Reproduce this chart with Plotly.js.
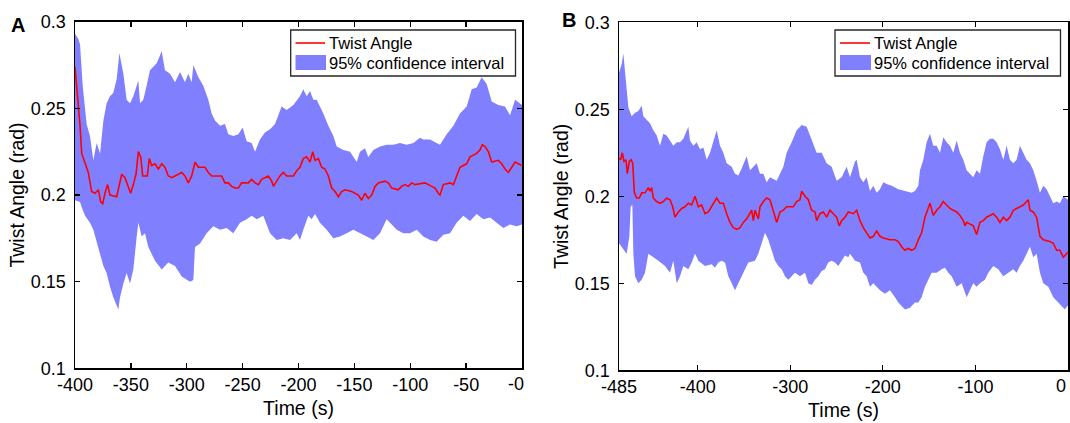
<!DOCTYPE html>
<html><head><meta charset="utf-8">
<script src="https://cdn.plot.ly/plotly-3.0.1.min.js"></script>
<style>html,body{margin:0;padding:0;background:#fff}#chart{width:1070px;height:423px}</style>
</head><body><div id="chart"></div>
<script>
// ---------- Panel A ----------
const aMeanTime = [
 -400,-398.5,-397,-395.5,-394,-391.1,-388.1,-385.1,-382.1,-379.1,
 -377,-375.2,-373.2,-370.8,-368.7,-362.7,-360.3,-358.2,-355.3,-352.3,
 -350.2,-347.8,-345.4,-343.3,-341.2,-339.4,-335.3,-333.5,-331.4,-328.4,
 -325.4,-322.4,-319.5,-316.5,-313.5,-310.5,-307.5,-304.5,-301.6,-298.6,
 -295.6,-292.6,-289.6,-283.7,-280.7,-277.7,-271.7,-268.8,-265.8,-262.8,
 -259.8,-256.8,-253.8,-250.9,-244.9,-241.9,-238.9,-235.9,-233,-227,
 -224,-222.5,-219.5,-216.6,-213.6,-210.6,-207.6,-204.6,-201.6,-198.7,
 -195.7,-192.7,-189.7,-187.3,-185.2,-182.2,-179.3,-176.3,-173.3,-170.3,
 -167.3,-164.3,-161.4,-158.4,-152.4,-149.4,-146.5,-143.5,-140.5,-137.5,
 -134.5,-131.5,-128.6,-122.6,-119.6,-116.6,-110.7,-107.7,-104.7,-101.7,
 -98.7,-95.7,-86.8,-80.8,-77.8,-74.9,-73.4,-70.4,-64.4,-61.4,
 -58.5,-55.5,-49.5,-46.5,-40.6,-37.6,-35.5,-33.1,-30.1,-27.1,
 -21.2,-18.2,-15.2,-12.2,-9.2,-6.2,-3.3,0];
const aMeanAngle = [
 0.274,0.263,0.251,0.240,0.224,0.218,0.213,0.202,0.201,0.203,
 0.196,0.195,0.201,0.206,0.200,0.199,0.207,0.212,0.210,0.204,
 0.201,0.206,0.212,0.225,0.222,0.211,0.211,0.221,0.217,0.218,
 0.215,0.218,0.216,0.211,0.210,0.211,0.212,0.213,0.211,0.207,
 0.211,0.219,0.216,0.216,0.213,0.211,0.211,0.211,0.207,0.207,
 0.205,0.204,0.204,0.207,0.207,0.209,0.207,0.206,0.209,0.211,
 0.208,0.205,0.208,0.211,0.213,0.211,0.211,0.211,0.214,0.216,
 0.221,0.222,0.219,0.225,0.220,0.221,0.216,0.215,0.211,0.204,
 0.202,0.199,0.202,0.203,0.202,0.201,0.200,0.197,0.201,0.198,
 0.200,0.205,0.207,0.208,0.207,0.204,0.203,0.205,0.206,0.205,
 0.207,0.206,0.207,0.205,0.204,0.201,0.200,0.206,0.207,0.206,
 0.211,0.216,0.218,0.222,0.224,0.226,0.229,0.228,0.225,0.219,
 0.220,0.218,0.215,0.213,0.216,0.219,0.218,0.217];

const aUpperTime = [
 -400,-397,-395.5,-393.1,-389.6,-386.6,-383.6,-380.6,-377.6,-374.6,
 -371.7,-368.7,-365.7,-362.7,-360.3,-356.7,-353.8,-350.8,-347.8,-343.3,
 -341.8,-338.9,-335.9,-332.9,-329.9,-326.9,-322.4,-319.5,-315,-310.5,
 -306,-301.6,-298.6,-295.6,-294.1,-289.6,-285.2,-280.7,-277.7,-274.7,
 -270.2,-265.8,-262.8,-258.3,-253.8,-250,-246.4,-241.9,-238.9,-234.5,
 -230,-225.5,-221,-215.1,-210.6,-204.6,-198.7,-195.7,-192.7,-189.7,
 -186.7,-183.7,-180.8,-177.8,-173.3,-168.8,-165.8,-159.9,-153.9,-147.9,
 -145,-140.5,-137.5,-133,-127.1,-121.1,-115.1,-109.2,-103.2,-97.2,
 -91.3,-88.3,-82.3,-76.4,-73.4,-67.4,-61.4,-55.5,-49.5,-45,
 -40.6,-36.1,-31.6,-27.1,-21.2,-15.2,-10.7,-6.2,-1.8,0];
const aUpperAngle = [
 0.293,0.290,0.287,0.263,0.241,0.234,0.220,0.230,0.224,0.243,
 0.253,0.257,0.259,0.267,0.282,0.270,0.255,0.253,0.257,0.266,
 0.253,0.255,0.263,0.272,0.274,0.276,0.283,0.272,0.270,0.265,
 0.271,0.265,0.270,0.265,0.275,0.268,0.263,0.255,0.247,0.243,
 0.240,0.241,0.235,0.234,0.235,0.239,0.231,0.230,0.225,0.232,
 0.236,0.238,0.241,0.251,0.249,0.252,0.257,0.261,0.257,0.260,
 0.255,0.255,0.251,0.247,0.240,0.234,0.228,0.226,0.225,0.219,
 0.225,0.227,0.222,0.226,0.228,0.229,0.229,0.230,0.229,0.230,
 0.233,0.232,0.232,0.230,0.229,0.235,0.240,0.247,0.251,0.261,
 0.262,0.268,0.264,0.254,0.252,0.251,0.246,0.255,0.253,0.252];

const aLowerTime = [
 -400,-395.5,-394,-391,-386.6,-383.6,-379.1,-374.6,-371.7,-368.7,
 -365.7,-361.2,-359.7,-356.7,-353.8,-350.8,-347.8,-344.8,-343.3,-340.3,
 -337.4,-334.4,-328.4,-322.4,-316.5,-310.5,-304.5,-297.1,-294.1,-292.6,
 -288.1,-282.2,-276.2,-270.2,-264.3,-258.3,-252.3,-246.4,-241.9,-237.4,
 -231.5,-225.5,-219.5,-213.6,-207.6,-201.6,-198.7,-195.7,-191.2,-188.2,
 -185.2,-180.8,-174.8,-168.8,-162.9,-156.9,-150.9,-145,-139,-133,
 -127.1,-121.1,-118.1,-112.1,-106.2,-100.2,-94.2,-88.3,-82.3,-76.4,
 -70.4,-64.4,-58.5,-52.5,-46.5,-40.6,-34.6,-28.6,-22.7,-16.7,
 -10.7,-4.8,0];
const aLowerAngle = [
 0.197,0.196,0.193,0.188,0.184,0.180,0.170,0.159,0.155,0.147,
 0.141,0.134,0.141,0.149,0.155,0.149,0.157,0.176,0.184,0.176,
 0.178,0.170,0.162,0.157,0.161,0.159,0.153,0.150,0.151,0.170,
 0.172,0.178,0.182,0.180,0.181,0.178,0.184,0.186,0.188,0.186,
 0.188,0.178,0.174,0.175,0.174,0.178,0.174,0.180,0.188,0.186,
 0.189,0.184,0.180,0.175,0.176,0.178,0.180,0.178,0.176,0.174,
 0.178,0.186,0.184,0.180,0.178,0.178,0.180,0.176,0.174,0.173,
 0.177,0.178,0.184,0.188,0.185,0.189,0.186,0.187,0.184,0.181,
 0.183,0.182,0.183];

// ---------- Panel B ----------
const bMeanTime = [
 -485,-483.2,-481.4,-479.6,-477.4,-476,-473.8,-472,-470.2,-468.4,
 -465.9,-463,-460.5,-456.9,-453.3,-451.5,-449.7,-447.9,-444.3,-440.7,
 -437.1,-433.5,-429.9,-427,-424.5,-420.9,-417.3,-413.7,-410.1,-406.5,
 -402.9,-401.1,-399.3,-395.7,-392.1,-388.5,-384.9,-379.5,-375.9,-372.3,
 -368.7,-365.1,-361.5,-357.9,-354.3,-350.7,-347.1,-343.5,-341.7,-339.9,
 -338.1,-334.5,-332.7,-329.1,-325.5,-321.9,-318.3,-314.7,-311.1,-307.5,
 -303.9,-296.7,-293.1,-289.5,-287.7,-284.1,-280.5,-276.9,-273.3,-271.5,
 -267.9,-264.3,-260.7,-257.1,-253.5,-249.9,-247.1,-244.5,-240.9,-237.3,
 -231.9,-228.3,-224.7,-221.1,-217.5,-213.9,-210.3,-206.7,-203.1,-199.5,
 -192.3,-186.9,-183.3,-179.7,-176.1,-172.5,-168.9,-165.3,-161.7,-158.1,
 -154.5,-150.9,-149.1,-145.5,-141.9,-138.3,-134.7,-131.1,-127.5,-123.9,
 -120.3,-116.7,-113.1,-111.3,-109.5,-102.3,-98.7,-95.1,-91.5,-87.9,
 -80.7,-77.1,-73.5,-69.9,-66.3,-62.7,-59.1,-55.5,-51.9,-48.3,
 -44.7,-42.9,-41.1,-37.5,-33.9,-30.3,-26.7,-19.5,-15.9,-12.3,
 -8.7,-5.1,-1.5,0];
const bMeanAngle = [
 0.222,0.221,0.225,0.220,0.221,0.213,0.220,0.221,0.219,0.202,
 0.199,0.199,0.202,0.202,0.205,0.203,0.205,0.199,0.197,0.196,
 0.197,0.199,0.198,0.194,0.188,0.191,0.193,0.194,0.196,0.195,
 0.200,0.197,0.194,0.195,0.190,0.191,0.194,0.199,0.196,0.196,
 0.190,0.185,0.182,0.181,0.182,0.185,0.187,0.190,0.192,0.186,
 0.192,0.187,0.194,0.197,0.199,0.198,0.192,0.185,0.191,0.192,
 0.194,0.194,0.197,0.198,0.203,0.200,0.198,0.192,0.191,0.186,
 0.190,0.191,0.188,0.192,0.190,0.188,0.183,0.186,0.188,0.191,
 0.190,0.192,0.186,0.182,0.179,0.176,0.177,0.180,0.177,0.176,
 0.175,0.175,0.174,0.171,0.169,0.170,0.169,0.170,0.175,0.179,
 0.188,0.193,0.196,0.189,0.192,0.194,0.197,0.195,0.193,0.192,
 0.191,0.189,0.186,0.183,0.185,0.183,0.178,0.185,0.186,0.188,
 0.190,0.188,0.185,0.188,0.186,0.188,0.192,0.193,0.194,0.195,
 0.197,0.198,0.192,0.191,0.188,0.177,0.175,0.174,0.173,0.169,
 0.169,0.165,0.167,0.168];

const bUpperTime = [
 -485,-482.1,-480.3,-478.5,-476.7,-474.9,-471.3,-467.7,-464.1,-460.5,
 -458.7,-455.1,-451.5,-447.9,-444.3,-440.7,-437.1,-433.5,-429.9,-426.3,
 -422.7,-419.1,-415.5,-410.1,-408.3,-404.7,-401.1,-397.5,-393.9,-390.3,
 -386.7,-383.1,-379.5,-375.9,-372.3,-368.7,-363.3,-359.7,-356.1,-352.5,
 -347.1,-343.5,-336.3,-332.7,-329.1,-325.5,-321.9,-314.7,-311.1,-307.5,
 -303.9,-298.5,-293.1,-287.7,-282.3,-276.9,-271.5,-266.1,-260.7,-255.3,
 -249.9,-244.5,-239.1,-235.5,-230.1,-228.3,-224.7,-221.1,-217.5,-213.9,
 -210.3,-206.7,-203.1,-199.5,-195.9,-190.5,-183.3,-176.1,-168.9,-165.3,
 -161.7,-159.9,-156.3,-152.7,-149.1,-145.5,-141.9,-138.3,-134.7,-131.1,
 -127.5,-123.9,-120.3,-116.7,-113.1,-109.5,-105.9,-102.3,-98.7,-95.1,
 -91.5,-87.9,-84.3,-80.7,-77.1,-73.5,-69.9,-66.3,-62.7,-59.1,
 -55.5,-51.9,-48.3,-44.7,-41.1,-37.5,-33.9,-30.3,-26.7,-23.1,
 -19.5,-15.9,-12.3,-8.7,-5.1,-0.8,0];
const bUpperAngle = [
 0.271,0.276,0.282,0.273,0.263,0.251,0.246,0.248,0.249,0.252,
 0.246,0.244,0.242,0.238,0.235,0.229,0.236,0.235,0.232,0.229,
 0.231,0.231,0.233,0.240,0.232,0.229,0.231,0.227,0.228,0.221,
 0.225,0.231,0.238,0.229,0.225,0.219,0.217,0.213,0.212,0.216,
 0.223,0.215,0.219,0.213,0.213,0.208,0.211,0.209,0.213,0.217,
 0.225,0.231,0.238,0.241,0.240,0.232,0.225,0.225,0.219,0.217,
 0.209,0.211,0.217,0.211,0.220,0.221,0.211,0.208,0.211,0.203,
 0.206,0.202,0.204,0.208,0.207,0.206,0.204,0.203,0.202,0.203,
 0.206,0.215,0.221,0.231,0.236,0.229,0.229,0.225,0.234,0.231,
 0.229,0.225,0.232,0.225,0.221,0.215,0.213,0.211,0.215,0.213,
 0.223,0.231,0.233,0.233,0.231,0.227,0.221,0.229,0.221,0.219,
 0.221,0.229,0.225,0.221,0.219,0.215,0.209,0.202,0.206,0.204,
 0.200,0.196,0.197,0.196,0.200,0.198,0.198];

const bLowerTime = [
 -485,-482.1,-476.7,-473.8,-472.4,-470.6,-469.5,-467.7,-464.1,-460.5,
 -456.9,-453.3,-449.7,-442.5,-435.3,-429.9,-426.3,-422.7,-419.1,-415.5,
 -410.1,-406.5,-402.9,-399.3,-392.1,-384.9,-381.3,-377.7,-374.1,-370.5,
 -366.9,-363.3,-359.7,-356.1,-352.5,-348.9,-345.3,-338.1,-334.5,-330.9,
 -327.3,-323.7,-320.1,-316.5,-312.9,-309.3,-305.7,-302.1,-298.5,-294.9,
 -289.5,-284.1,-280.5,-276.9,-273.3,-269.7,-266.1,-262.5,-258.9,-255.3,
 -251.7,-248.1,-244.5,-240.9,-237.3,-235.5,-230.1,-224.7,-221.1,-217.5,
 -213.9,-210.3,-206.7,-203.1,-197.7,-192.3,-186.9,-183.3,-179.7,-176.1,
 -170.7,-165.3,-161.7,-158.1,-154.5,-150.9,-147.3,-141.9,-136.5,-132.9,
 -129.3,-125.7,-120.3,-114.9,-109.5,-105.9,-102.3,-98.7,-95.1,-89.7,
 -86.1,-80.7,-75.3,-69.9,-64.5,-59.1,-55.5,-51.9,-48.3,-44.7,
 -41.1,-37.5,-33.9,-30.3,-26.7,-21.3,-15.9,-10.5,-6.9,-3.3,
 -0.8,0];
const bLowerAngle = [
 0.173,0.171,0.167,0.177,0.194,0.195,0.167,0.154,0.150,0.152,
 0.156,0.167,0.166,0.163,0.160,0.156,0.163,0.150,0.154,0.160,
 0.158,0.162,0.167,0.163,0.160,0.161,0.159,0.162,0.163,0.162,
 0.154,0.150,0.146,0.150,0.154,0.158,0.162,0.163,0.167,0.173,
 0.179,0.175,0.169,0.163,0.160,0.158,0.154,0.152,0.154,0.156,
 0.154,0.156,0.150,0.149,0.152,0.154,0.157,0.158,0.162,0.163,
 0.162,0.160,0.163,0.166,0.165,0.167,0.163,0.162,0.156,0.154,
 0.148,0.150,0.148,0.146,0.144,0.146,0.142,0.139,0.137,0.135,
 0.136,0.139,0.139,0.142,0.148,0.152,0.156,0.156,0.158,0.159,
 0.156,0.154,0.148,0.150,0.142,0.146,0.150,0.148,0.150,0.152,
 0.156,0.160,0.158,0.154,0.156,0.158,0.156,0.160,0.163,0.167,
 0.171,0.165,0.167,0.156,0.150,0.148,0.142,0.139,0.137,0.135,
 0.137,0.137];

// ---------- ticks & labels ----------
const aTickVals = [-400,-350,-300,-250,-200,-150,-100,-50,0];
const aTickText = ['-400','-350','-300','-250','-200','-150','-100','-50',''];
const aLastTick = '-0';
const bTickVals = [-485,-400,-300,-200,-100,0];
const bTickText = ['-485','-400','-300','-200','-100',''];
const bLastTick = '0';
const yTickVals = [0.1,0.15,0.2,0.25,0.3];
const yTickText = ['0.1','0.15','0.2','0.25','0.3'];
const lineName = 'Twist Angle';
const bandName = '95% confidence interval';
const xTitle = 'Time (s)';
const yTitle = 'Twist Angle (rad)';

const FONT = '"Liberation Sans", Arial, Helvetica, sans-serif';
const BAND = 'rgb(128,128,255)';
const RED = 'rgb(255,0,0)';
const W = 1070, H = 423;

function bandTrace(tU, vU, tL, vL, xa, ya) {
  return {
    x: tU.concat(tL.slice().reverse()),
    y: vU.concat(vL.slice().reverse()),
    xaxis: xa, yaxis: ya, showlegend: false,
    type: 'scatter', mode: 'lines', fill: 'toself', fillcolor: BAND,
    line: {width: 0, color: BAND}, name: bandName, hoverinfo: 'skip'
  };
}
function lineTrace(t, v, xa, ya) {
  return {x: t, y: v, xaxis: xa, yaxis: ya, showlegend: false,
    type: 'scatter', mode: 'lines', line: {color: RED, width: 1.6},
    name: lineName, hoverinfo: 'skip'};
}

const data = [
  bandTrace(aUpperTime, aUpperAngle, aLowerTime, aLowerAngle, 'x', 'y'),
  lineTrace(aMeanTime, aMeanAngle, 'x', 'y'),
  bandTrace(bUpperTime, bUpperAngle, bLowerTime, bLowerAngle, 'x2', 'y2'),
  lineTrace(bMeanTime, bMeanAngle, 'x2', 'y2')
];

function xAxis(dom, range, vals, text, anchor) {
  return {domain: dom, range: range, anchor: anchor, tickmode: 'array', tickvals: vals, ticktext: text,
    ticks: 'inside', ticklen: 5, tickwidth: 1.3, tickcolor: '#000',
    showline: true, linecolor: '#000', linewidth: 1.5, mirror: 'ticks',
    showgrid: false, zeroline: false, fixedrange: true,
    tickfont: {family: FONT, size: 18, color: '#000'},
    title: {text: xTitle, font: {family: FONT, size: 19.5, color: '#000'}, standoff: 7}};
}
function yAxis(dom, anchor) {
  return {domain: dom, range: [0.1, 0.3], anchor: anchor, tickmode: 'array', tickvals: yTickVals, ticktext: yTickText,
    ticks: 'inside', ticklen: 5, tickwidth: 1.3, tickcolor: '#000',
    showline: true, linecolor: '#000', linewidth: 1.5, mirror: 'ticks',
    showgrid: false, zeroline: false, fixedrange: true, ticklabelstandoff: 4,
    tickfont: {family: FONT, size: 18, color: '#000'},
    title: {text: yTitle, font: {family: FONT, size: 19.5, color: '#000'}, standoff: 1}};
}

// legend boxes drawn in pixel coordinates of the page (converted to paper units)
function px(x) { return x / W; }
function py(y) { return 1 - y / H; }
function legendParts(left, right, sampleL, sampleR, textX) {
  const shapes = [
    {type: 'rect', xref: 'paper', yref: 'paper', x0: px(left), x1: px(right), y0: py(76), y1: py(30),
     line: {color: '#262626', width: 1.3}, fillcolor: '#fff', layer: 'above'},
    {type: 'line', xref: 'paper', yref: 'paper', x0: px(sampleL), x1: px(sampleR), y0: py(43), y1: py(43),
     line: {color: RED, width: 1.6}, layer: 'above'},
    {type: 'rect', xref: 'paper', yref: 'paper', x0: px(sampleL), x1: px(sampleR + 1), y0: py(70), y1: py(55),
     line: {width: 0}, fillcolor: BAND, layer: 'above'}
  ];
  const ann = [
    {text: lineName, xref: 'paper', yref: 'paper', x: px(textX), y: py(43), xanchor: 'left', yanchor: 'middle',
     showarrow: false, font: {family: FONT, size: 16.5, color: '#000'}},
    {text: bandName, xref: 'paper', yref: 'paper', x: px(textX), y: py(63), xanchor: 'left', yanchor: 'middle',
     showarrow: false, font: {family: FONT, size: 16.5, color: '#000'}}
  ];
  return {shapes, ann};
}
const legA = legendParts(290.7, 515.5, 295.5, 325, 327);
const legB = legendParts(835, 1060.5, 840, 870, 872);

const layout = {
  width: W, height: H, margin: {l: 0, r: 0, t: 0, b: 0},
  paper_bgcolor: '#fff', plot_bgcolor: '#fff', font: {family: FONT, color: '#000'},
  showlegend: false,
  xaxis: xAxis([75/W, 522/W], [-400, 0], aTickVals, aTickText, 'y'),
  yaxis: yAxis([0.1293, 0.9487], 'x'),
  xaxis2: xAxis([619/W, 1068/W], [-485, 0], bTickVals, bTickText, 'y2'),
  yaxis2: yAxis([0.1246, 0.9473], 'x2'),
  shapes: legA.shapes.concat(legB.shapes),
  annotations: [
    {text: '<b>A</b>', xref: 'paper', yref: 'paper', x: px(17.5), y: py(25), showarrow: false,
     xanchor: 'center', yanchor: 'middle', font: {family: FONT, size: 20, color: '#000'}},
    {text: '<b>B</b>', xref: 'paper', yref: 'paper', x: px(568.5), y: py(19.5), showarrow: false,
     xanchor: 'center', yanchor: 'middle', font: {family: FONT, size: 20, color: '#000'}},
    {text: aLastTick, xref: 'x', yref: 'y domain', x: 0, y: 0, xshift: -6, yshift: -4, showarrow: false,
     xanchor: 'center', yanchor: 'top', font: {family: FONT, size: 18, color: '#000'}},
    {text: bLastTick, xref: 'x2', yref: 'y2 domain', x: 0, y: 0, xshift: -7, yshift: -4, showarrow: false,
     xanchor: 'center', yanchor: 'top', font: {family: FONT, size: 18, color: '#000'}}
  ].concat(legA.ann, legB.ann)
};

Plotly.newPlot('chart', data, layout, {staticPlot: true, displayModeBar: false});
</script>
</body></html>
